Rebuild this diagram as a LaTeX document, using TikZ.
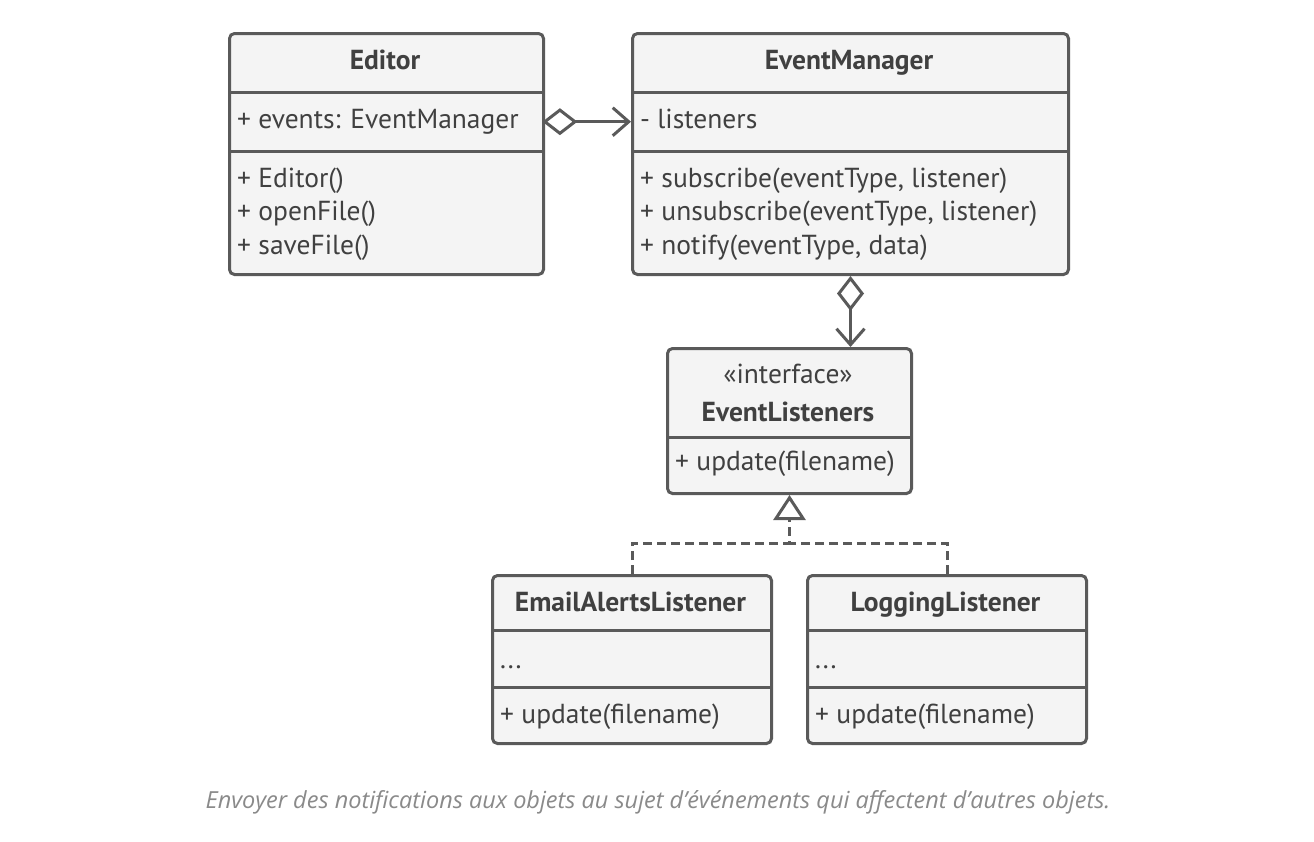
\documentclass[tikz,border=0pt]{standalone}
\usepackage{fontspec}
\setmainfont{PT Sans}
\newfontfamily\capfont{Open Sans}
\usetikzlibrary{arrows.meta,positioning,calc}
\definecolor{lc}{HTML}{5A5A5A}
\definecolor{tc}{HTML}{404040}
\definecolor{bg}{HTML}{F4F4F4}
\definecolor{cc}{HTML}{8A8A8A}
\newcommand{\fsz}{\fontsize{27.5}{33}\selectfont}
\tikzset{
  box/.style={draw=lc, fill=bg, line width=3pt, rounded corners=5pt, inner sep=0pt, anchor=north west},
  row/.style={inner sep=0pt, anchor=north west},
  sepline/.style={draw=lc, line width=3pt},
  txt/.style={text=tc, font=\fsz, anchor=base west, inner sep=0pt},
  ttl/.style={text=tc, font=\fsz\bfseries, anchor=base, inner sep=0pt},
  stereo/.style={text=tc, font=\fsz, anchor=base, inner sep=0pt},
  conn/.style={draw=lc, line width=3pt},
  agg/.style={conn, {Diamond[open, length=35pt, width=27pt, line width=3pt, fill=white]}-{Straight Barb[length=16pt, width=28pt, line width=3pt]}},
  real/.style={conn, dash pattern=on 9pt off 5pt},
  realtip/.style={-{Triangle[open, length=25pt, width=32pt, line width=3pt, fill=white]}}
}
\begin{document}
\begin{tikzpicture}[x=1pt,y=-1pt]
\useasboundingbox[fill=white] (0,0) rectangle (1314,841);

% Editor
\node[box, minimum width=314pt, minimum height=241pt] (editor) at (228,32) {};
\node[row, minimum width=314pt, minimum height=59pt] (editorA) at (228,92) {};
\draw[sepline] (228,92) -- (542,92);
\draw[sepline] (228,151) -- (542,151);
\node[ttl] (editorT) at (385,69) {Editor};
\node[txt] (editorA1) at (237,128) {+ events: EventManager};
\node[txt] (editorM1) at (237,187) {+ Editor()};
\node[txt] (editorM2) at (237,220) {+ openFile()};
\node[txt] (editorM3) at (237,254) {+ saveFile()};

% EventManager
\node[box, minimum width=436pt, minimum height=241pt] (em) at (631,32) {};
\node[row, minimum width=436pt, minimum height=59pt] (emA) at (631,92) {};
\draw[sepline] (631,92) -- (1067,92);
\draw[sepline] (631,151) -- (1067,151);
\node[ttl] (emT) at (849,69) {EventManager};
\node[txt] (emA1) at (640,128) {- listeners};
\node[txt] (emM1) at (640,187) {+ subscribe(eventType, listener)};
\node[txt] (emM2) at (640,220) {+ unsubscribe(eventType, listener)};
\node[txt] (emM3) at (640,254) {+ notify(eventType, data)};

% EventListeners
\node[box, minimum width=244pt, minimum height=145pt] (el) at (666,347) {};
\draw[sepline] (666,437) -- (910,437);
\node[stereo] (elS) at (788,383) {«interface»};
\node[ttl] (elT) at (788,421) {EventListeners};
\node[txt] (elM1) at (675,470) {+ update(filename)};

% EmailAlertsListener
\node[box, minimum width=279pt, minimum height=168pt] (email) at (491,574) {};
\draw[sepline] (491,630) -- (770,630);
\draw[sepline] (491,687) -- (770,687);
\node[ttl] (emailT) at (630.5,611) {EmailAlertsListener};
\node[txt] (emailA1) at (500,668) {...};
\node[txt] (emailM1) at (500,723) {+ update(filename)};

% LoggingListener
\node[box, minimum width=279pt, minimum height=168pt] (log) at (806,574) {};
\draw[sepline] (806,630) -- (1085,630);
\draw[sepline] (806,687) -- (1085,687);
\node[ttl] (logT) at (945.5,611) {LoggingListener};
\node[txt] (logA1) at (815,668) {...};
\node[txt] (logM1) at (815,723) {+ update(filename)};

% connectors
\draw[agg] (editorA.east) -- (emA.west);
\draw[agg] (em.south) -- (em.south |- el.north);
\coordinate (jn) at ($(el.south)+(0,48)$);
\draw[real] (log.north) |- (jn);
\draw[real, realtip] (email.north) |- (jn) -- (el.south);

% caption
\node[text=cc, font=\capfont\itshape\fontsize{23.5}{28}\selectfont, anchor=base, inner sep=0pt] (cap) at (658,808) {Envoyer des notifications aux objets au sujet d’événements qui affectent d’autres objets.};
\end{tikzpicture}
\end{document}
